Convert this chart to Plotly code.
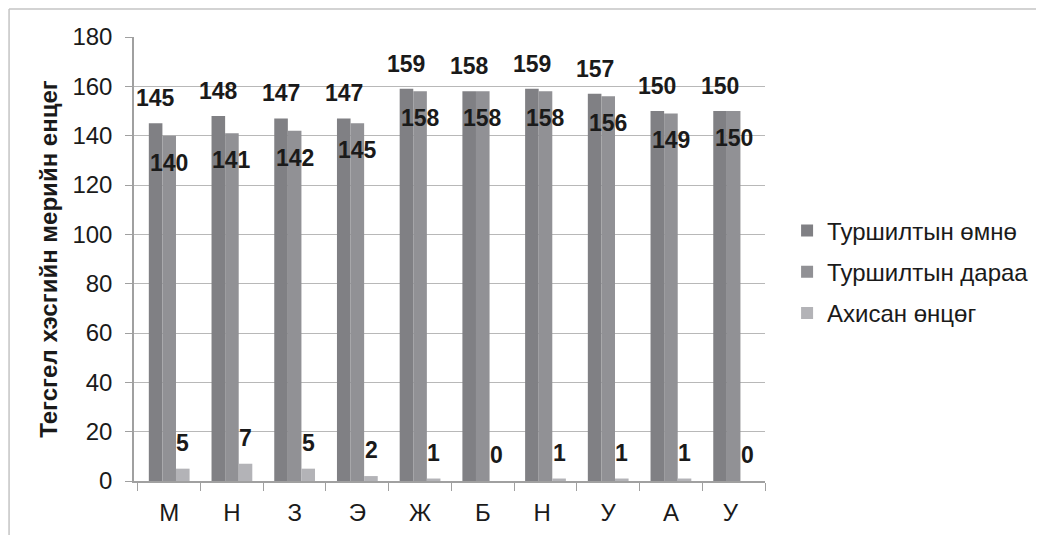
import plotly.graph_objects as go

categories = ["М", "Н", "З", "Э", "Ж", "Б", "Н", "У", "А", "У"]
before = [145, 148, 147, 147, 159, 158, 159, 157, 150, 150]
after = [140, 141, 142, 145, 158, 158, 158, 156, 149, 150]
gain = [5, 7, 5, 2, 1, 0, 1, 1, 1, 0]
series_names = ["Туршилтын өмнө", "Туршилтын дараа", "Ахисан өнцөг"]
y_title = "Тегсгел хэсгийн мерийн енцег"

# make duplicate category names unique for the categorical axis (trailing spaces render invisibly)
seen = {}
xcats = []
for c in categories:
    n = seen.get(c, 0)
    xcats.append(c + " " * n)
    seen[c] = n + 1

colors = ["#808084", "#919195", "#b3b3b7"]
FONT = "Liberation Sans, Arial, sans-serif"

fig = go.Figure()
for name, vals, col in zip(series_names, [before, after, gain], colors):
    fig.add_trace(go.Bar(x=xcats, y=vals, name=name, marker=dict(color=col, line=dict(width=0)),
                         legendgroup=name))

bar_px = 13.7
shifts = [(-bar_px, 25), (0, -27), (bar_px, 26)]
for vals, (xs, ys) in zip([before, after, gain], shifts):
    for xc, v in zip(xcats, vals):
        fig.add_annotation(x=xc, y=v, text=str(v), showarrow=False, xshift=xs, yshift=ys,
                           font=dict(family=FONT, size=23, color="#1a1a1a", weight="bold"),
                           xanchor="center", yanchor="middle")

# outer frame lines (top and left)
fig.add_shape(type="line", xref="paper", yref="paper", x0=-0.198, x1=1.5, y0=1.063, y1=1.063,
              line=dict(color="#c4c4c4", width=1.5))
fig.add_shape(type="line", xref="paper", yref="paper", x0=-0.198, x1=-0.198, y0=1.063, y1=-0.2,
              line=dict(color="#c4c4c4", width=1.5))

fig.update_layout(
    width=1044, height=535,
    margin=dict(l=126, r=287, t=29, b=62, autoexpand=False),
    paper_bgcolor="white", plot_bgcolor="white",
    barmode="group", bargap=0.35, bargroupgap=0,
    font=dict(family=FONT, color="#1a1a1a"),
    showlegend=True,
    legend=dict(x=1.035, y=0.471, xanchor="left", yanchor="middle",
                font=dict(family=FONT, size=24, color="#1a1a1a"),
                tracegroupgap=7, itemwidth=30, bgcolor="rgba(0,0,0,0)"),
    xaxis=dict(type="category", tickson="boundaries", ticks="outside", ticklen=8,
               tickcolor="#a0a0a0", showline=True, linecolor="#a0a0a0", linewidth=1.5,
               showgrid=False, tickfont=dict(family=FONT, size=24, color="#1a1a1a"),
               ticklabelstandoff=9, fixedrange=True),
    yaxis=dict(range=[0, 180], dtick=20, tick0=0, ticks="outside", ticklen=7,
               tickcolor="#a0a0a0", showline=True, linecolor="#a0a0a0", linewidth=1.5,
               showgrid=True, gridcolor="#b8b8b8", gridwidth=1.2, zeroline=False,
               tickfont=dict(family=FONT, size=24, color="#1a1a1a"), ticklabelstandoff=8,
               title=dict(text=y_title, standoff=8,
                          font=dict(family=FONT, size=24, color="#1a1a1a", weight="bold"))),
)

fig.write_html("out.html")
